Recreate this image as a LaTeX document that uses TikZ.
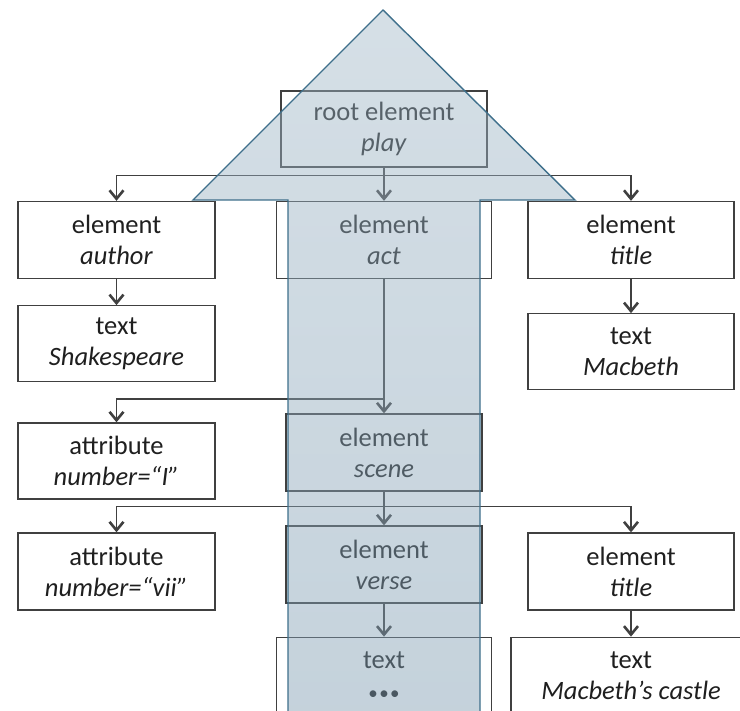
\documentclass[tikz,border=0pt]{standalone}
\usepackage{fontspec}
\setmainfont{Carlito}
\usetikzlibrary{
  arrows.meta,
  positioning,  % below=of
}
\definecolor{boxline}{HTML}{404040}
\definecolor{arrowline}{HTML}{3E6F8B}
\definecolor{arrowtop}{HTML}{A2B8C8}
\definecolor{arrowbot}{HTML}{7E9CB1}
\def\mygap{26pt}
\tikzset{
  font=\fontsize{26.5}{31}\selectfont,
  >={Straight Barb[length=8.5pt,width=14pt,line width=2.6pt]},
  xml node/.style={
    draw=boxline,
    line width=1.3pt,
    fill=white,
    text=black!88,
    align=center,
    inner sep=0pt,
    minimum height=77pt
  },
  left node/.style={xml node,minimum width=197pt},
  mid node/.style={xml node,minimum width=196pt},
  wide node/.style={xml node,minimum width=215pt},
  right node/.style={xml node,minimum width=206pt},
  link/.style={->,draw=boxline,line width=1.3pt},
  big arrow/.style={
    top color=arrowtop,
    bottom color=arrowbot,
    fill opacity=0.45,
    draw=arrowline,
    draw opacity=1,
    line width=1.4pt
  }
}
\newcommand{\threedots}{{\fontsize{19}{31}\selectfont •\hspace{1.5pt}•\hspace{1.5pt}•}}

\begin{document}
\begin{tikzpicture}[x=1pt,y=-1pt]
\useasboundingbox (0,0) rectangle (740,711);
\clip (0,0) rectangle (740,711);
\node[right node,minimum height=76pt] (root)    at (384,129)   {root element\\\textit{play}};
\node[left node]                      (author)  at (116.5,240) {element\\\textit{author}};
\node[wide node]                      (act)     at (384,240)   {element\\\textit{act}};
\node[right node]                     (title)   at (631,240)   {element\\\textit{title}};
\node[left node,minimum height=76pt]  (shakes)  [below=\mygap of author] {text\\\textit{Shakespeare}};
\node[right node,minimum height=76pt] (macbeth) [below=34pt of title]    {text\\\textit{Macbeth}};
\node[left node,minimum height=76pt]  (attr1)   at (116.5,461) {attribute\\\textit{number=“I”}};
\node[mid node]                       (scene)   at (384,452.5) {element\\\textit{scene}};
\node[left node]                      (attr2)   at (116.5,571.5) {attribute\\\textit{number=“vii”}};
\node[mid node]                       (verse)   at (384,564.5) {element\\\textit{verse}};
\node[right node]                     (title2)  at (631,571.5) {element\\\textit{title}};
\node[wide node,minimum height=76pt]  (dots)    [below=33pt of verse]    {text\\\threedots};
\node[xml node,minimum width=240pt,minimum height=76pt] (castle) [below=\mygap of title2] {text\\\textit{Macbeth’s castle}};
% connectors
\draw[link] (root) -- (act);
\draw[link] (root.south) -- ++(0,8) -| (author);
\draw[link] (root.south) -- ++(0,8) -| (title);
\draw[link] (author) -- (shakes);
\draw[link] (title) -- (macbeth);
\draw[link] (act) -- (scene);
\draw[link] (act.south) -- ++(0,120) -| (attr1);
\draw[link] (scene) -- (verse);
\draw[link] (scene.south) -- ++(0,15) -| (attr2);
\draw[link] (scene.south) -- ++(0,15) -| (title2);
\draw[link] (verse) -- (dots);
\draw[link] (title2) -- (castle);
% the big arrow on top
\shade[big arrow] (383,10) -- (575,200) -- (480,200) -- (480,720)
  -- (288,720) -- (288,200) -- (193,200) -- cycle;
\end{tikzpicture}
\end{document}
